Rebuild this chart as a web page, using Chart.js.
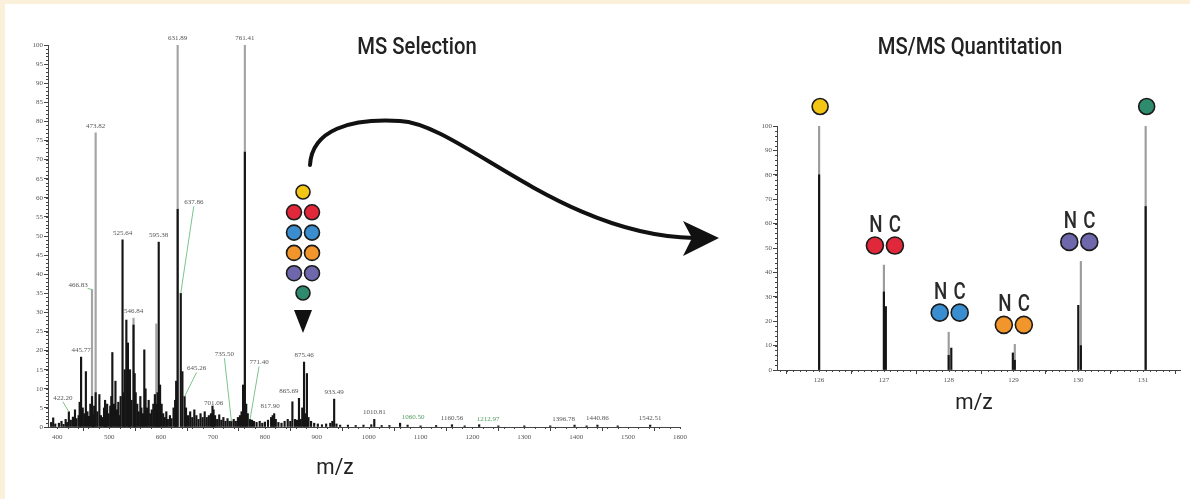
<!DOCTYPE html>
<html>
<head>
<meta charset="utf-8">
<script src="https://cdn.jsdelivr.net/npm/chart.js@4.4.0/dist/chart.umd.min.js"></script>
<style>
  html, body { margin: 0; padding: 0; }
  body { width: 1190px; height: 499px; background: #fbf1da; position: relative; overflow: hidden; }
  #panel { position: absolute; left: 5px; top: 4px; right: 0; bottom: 0; background: #fff; }
  canvas { position: absolute; top: 0; }
  #msChart { left: 0; }
  #msmsChart { left: 740px; }
</style>
</head>
<body>
<div id="panel"></div>
<canvas id="msChart" width="740" height="499"></canvas>
<canvas id="msmsChart" width="450" height="499"></canvas>
<script>
// ---- MS1 survey scan ----
const msMz = [
  388, 392, 396, 403, 408, 412, 416, 419, 422.20, 426,
  430, 434, 437, 441, 443, 445.77, 449, 452, 455, 458,
  461, 463.6, 466.83, 469, 471, 473.82, 477, 481, 484, 487,
  490, 492, 494, 496, 499, 502, 504, 506, 509, 512,
  515, 517.5, 520, 522, 525.64, 528, 530, 533, 536, 538,
  540, 543, 546.84, 549, 551, 554, 557, 560, 562, 565,
  567.6, 570, 573, 576, 579, 582, 585, 588, 590.7, 593,
  595.38, 598, 601, 604, 607, 610, 613, 617, 620, 624,
  627, 629, 631.89, 637.86, 641, 645.26, 648, 652, 656, 660,
  664, 668, 672, 676, 680, 684, 688, 692, 696, 699,
  701.06, 704, 708, 712, 716, 720, 724, 728, 732, 735.50,
  740, 744, 748, 752, 755, 758, 761.41, 764, 767, 771.40,
  775, 779, 784, 790, 795, 800, 806, 812, 815, 817.90,
  821, 826, 832, 838, 844, 849, 853, 858, 862, 865.69,
  869, 872, 875.46, 878, 881, 884, 889, 895, 902, 910,
  918, 926, 930, 933.49, 938, 945, 960, 975, 990, 1005,
  1010.81, 1025, 1040, 1060.50, 1075, 1100, 1130, 1160.56, 1185, 1212.97,
  1250, 1300, 1350, 1396.78, 1420, 1440.86, 1480, 1542.51
];
const msIntensity = [
  1.2, 2.4, 0.8, 1.0, 1.5, 0.7, 2.0, 1.2, 4.0, 1.8,
  2.6, 4.5, 2.2, 3.0, 6.5, 18.3, 5.0, 3.5, 14.5, 4.0,
  2.8, 6.0, 8.0, 3.2, 5.5, 9.0, 4.0, 8.5, 3.0, 2.5,
  5.0, 7.0, 4.2, 6.0, 3.5, 5.5, 8.0, 19.5, 6.0, 12.0,
  4.5, 6.5, 3.0, 8.0, 49.0, 9.0, 15.0, 28.0, 22.0, 10.0,
  15.0, 7.0, 26.7, 14.0, 9.0, 6.0, 4.0, 8.0, 5.0, 3.5,
  20.2, 10.0, 5.0, 7.0, 3.5, 4.5, 6.0, 8.5, 6.0, 9.0,
  48.4, 11.0, 6.0, 3.5, 2.5, 4.0, 2.0, 3.0, 2.2, 5.0,
  7.0, 12.0, 57.0, 35.0, 14.5, 8.0, 5.0, 3.0, 4.0, 2.5,
  4.5, 3.0, 2.0, 3.5, 2.5, 4.0, 2.5, 3.0, 3.5, 5.5,
  4.5, 3.0, 2.0, 3.2, 1.8, 2.5, 1.5, 2.2, 1.5, 1.5,
  2.0, 1.5, 2.5, 3.0, 4.0, 11.0, 72.0, 6.0, 3.5, 2.0,
  1.8, 1.5, 1.2, 1.5, 1.0, 1.3, 1.8, 2.5, 3.0, 3.5,
  2.0, 1.2, 1.0, 1.5, 2.0, 1.5, 6.6, 2.0, 1.8, 7.5,
  2.0, 5.0, 17.0, 3.5, 14.0, 2.5, 1.5, 1.0, 0.8, 0.6,
  0.8, 1.0, 1.5, 7.3, 0.8, 0.5, 0.5, 0.4, 0.5, 0.6,
  2.0, 0.4, 0.4, 1.0, 0.5, 0.3, 0.4, 0.6, 0.3, 0.6,
  0.3, 0.3, 0.3, 0.5, 0.3, 0.5, 0.3, 0.5
];
// profile maxima of the strongest ions (grey)
const msProfileMz = [466.83, 473.82, 546.84, 590.7, 631.89, 761.41];
const msProfileIntensity = [36, 77, 28.5, 27, 100, 100];
// annotated peaks
const msLabels = [
  422.20, 445.77, 466.83, 473.82, 525.64, 546.84, 595.38, 631.89, 637.86, 645.26,
  701.06, 735.50, 761.41, 771.40, 817.90, 865.69, 875.46, 933.49, 1010.81, 1060.50,
  1160.56, 1212.97, 1396.78, 1440.86, 1542.51
];
const msTicksX = [400, 500, 600, 700, 800, 900, 1000, 1100, 1200, 1300, 1400, 1500, 1600];
const msTicksY = [0, 5, 10, 15, 20, 25, 30, 35, 40, 45, 50, 55, 60, 65, 70, 75, 80, 85, 90, 95, 100];

// ---- MS/MS reporter region ----
const reporterNames = ['126', '127N', '127C', '128N', '128C', '129N', '129C', '130N', '130C', '131'];
const reporterMz = [126.00, 127.00, 127.03, 128.00, 128.04, 128.99, 129.02, 130.00, 130.04, 131.04];
const reporterProfile = [100, 43, 0, 15.5, 0, 0, 10.5, 0, 44.5, 100];
const reporterCentroid = [80, 32, 26, 6, 9, 7, 4, 26.5, 10, 67];
const reporterTicksX = [126, 127, 128, 129, 130, 131];
const reporterTicksY = [0, 10, 20, 30, 40, 50, 60, 70, 80, 90, 100];

// label placement tweaks (pixels from the peak top)
const labelNudge = {
  '422.20': { dx: -6, dy: -14, lead: true },
  '466.83': { dx: -14, dy: -4, lead: true },
  '637.86': { dx: 13, dy: -91, lead: true },
  '645.26': { dx: 12, dy: -28, lead: true },
  '735.50': { dx: -7, dy: -67, lead: true },
  '771.40': { dx: 9, dy: -57, lead: true },
  '817.90': { dx: -4, dy: -7 },
  '865.69': { dx: -10, dy: -7 },
  '1060.50': { dx: 13, dy: -6, green: true },
  '1212.97': { dx: 9, dy: -6, green: true },
  '1396.78': { dx: -11, dy: -6 }
};

// tag colours: 126, 127, 128, 129, 130, 131
const tagColors = ['#f3c515', '#e1283a', '#3a8dce', '#f2952a', '#6e67ab', '#2f8b6e'];
const tickFont = { family: 'Liberation Serif', size: 7 };

function narrowText(ctx, text, x, y, font, sx, color) {
  ctx.save();
  ctx.font = font;
  ctx.fillStyle = color;
  ctx.textAlign = 'center';
  ctx.textBaseline = 'middle';
  ctx.translate(x, y);
  ctx.scale(sx, 1);
  ctx.fillText(text, 0, 0);
  ctx.restore();
}

function dot(ctx, x, y, r, fill) {
  ctx.beginPath();
  ctx.arc(x, y, r, 0, Math.PI * 2);
  ctx.fillStyle = fill;
  ctx.fill();
  ctx.lineWidth = 1.6;
  ctx.strokeStyle = '#1b1b1b';
  ctx.stroke();
}

// short minor ticks along both axes
const minorTicks = {
  id: 'minorTicks',
  afterDraw(chart, args, opts) {
    const { ctx, chartArea: a, scales: { x, y } } = chart;
    ctx.save();
    ctx.strokeStyle = '#444';
    ctx.lineWidth = 1;
    ctx.beginPath();
    for (let v = Math.ceil(x.min / opts.x) * opts.x; v <= x.max + 1e-9; v += opts.x) {
      const px = Math.round(x.getPixelForValue(v)) + 0.5;
      ctx.moveTo(px, a.bottom);
      ctx.lineTo(px, a.bottom + opts.len);
    }
    for (let v = 0; v <= y.max + 1e-9; v += opts.y) {
      const py = Math.round(y.getPixelForValue(v)) + 0.5;
      ctx.moveTo(a.left - opts.len, py);
      ctx.lineTo(a.left, py);
    }
    ctx.stroke();
    ctx.restore();
  }
};

// m/z annotations above the MS1 peaks
const peakLabels = {
  id: 'peakLabels',
  afterDatasetsDraw(chart) {
    const { ctx, scales: { x, y } } = chart;
    ctx.save();
    ctx.font = '7px "Liberation Serif"';
    ctx.textAlign = 'center';
    ctx.textBaseline = 'middle';
    msLabels.forEach(mz => {
      let top = 0;
      msMz.forEach((m, i) => { if (m === mz) top = Math.max(top, msIntensity[i]); });
      msProfileMz.forEach((m, i) => { if (m === mz) top = Math.max(top, msProfileIntensity[i]); });
      const text = mz.toFixed(2);
      const n = labelNudge[text] || { dx: 0, dy: -7 };
      const px = x.getPixelForValue(mz);
      const py = y.getPixelForValue(top);
      const lx = px + n.dx;
      const ly = py + n.dy;
      if (n.lead) {
        // green leader from the label to its peak
        const w = ctx.measureText(text).width;
        ctx.beginPath();
        if (Math.abs(n.dy) > 10) {
          ctx.moveTo(lx, ly + 4);
        } else {
          ctx.moveTo(n.dx < 0 ? lx + w / 2 : lx - w / 2, ly + 3);
        }
        ctx.lineTo(px, py);
        ctx.strokeStyle = '#7cc48a';
        ctx.lineWidth = 1;
        ctx.stroke();
      }
      ctx.fillStyle = n.green ? '#4f9a5c' : '#555';
      ctx.fillText(text, lx, ly);
    });
    ctx.restore();
  }
};

// titles, precursor tag bundle and the transfer arrow
const selectionArt = {
  id: 'selectionArt',
  afterDraw(chart) {
    const ctx = chart.ctx;
    ctx.save();
    narrowText(ctx, 'MS Selection', 417, 48, '500 23px Roboto', 0.88, '#222');
    narrowText(ctx, 'm/z', 335, 468, '22px Roboto', 0.95, '#222');

    // isolated precursor carrying all six tags
    const cx = 303;
    dot(ctx, cx, 192, 7, tagColors[0]);
    for (let k = 1; k <= 4; k++) {
      const cy = 192 + k * 20.3;
      dot(ctx, cx - 9, cy, 7.5, tagColors[k]);
      dot(ctx, cx + 9, cy, 7.5, tagColors[k]);
    }
    dot(ctx, cx, 293, 7, tagColors[5]);
    ctx.beginPath();
    ctx.moveTo(cx - 9, 310);
    ctx.lineTo(cx + 9, 310);
    ctx.lineTo(cx, 333);
    ctx.closePath();
    ctx.fillStyle = '#111';
    ctx.fill();

    // fragmentation arrow
    ctx.beginPath();
    ctx.moveTo(310, 165);
    ctx.bezierCurveTo(312, 130, 350, 118, 400, 121);
    ctx.bezierCurveTo(460, 124, 560, 235, 694, 238);
    ctx.lineWidth = 4;
    ctx.lineCap = 'round';
    ctx.strokeStyle = '#111';
    ctx.stroke();
    ctx.beginPath();
    ctx.moveTo(719, 238);
    ctx.lineTo(683, 221);
    ctx.lineTo(692, 238);
    ctx.lineTo(683, 256);
    ctx.closePath();
    ctx.fill();
    ctx.restore();
  }
};

// reporter tag markers above each channel
const reporterTags = {
  id: 'reporterTags',
  afterDraw(chart) {
    const { ctx, scales: { x, y } } = chart;
    ctx.save();
    narrowText(ctx, 'MS/MS Quantitation', 230, 48, '500 23px Roboto', 0.88, '#222');
    narrowText(ctx, 'm/z', 234, 403, '22px Roboto', 0.95, '#222');
    const groups = [];
    reporterNames.forEach((name, i) => {
      const key = name.slice(0, 3);
      let g = groups.find(e => e.key === key);
      if (!g) { g = { key, idx: [] }; groups.push(g); }
      g.idx.push(i);
    });
    groups.forEach((g, gi) => {
      const top = Math.max(...g.idx.map(i => Math.max(reporterProfile[i], reporterCentroid[i])));
      const cx = x.getPixelForValue(reporterMz[g.idx[0]]) + 1;
      const cy = y.getPixelForValue(top + 8);
      if (g.idx.length === 1) {
        dot(ctx, cx, cy, 8, tagColors[gi]);
      } else {
        dot(ctx, cx - 10, cy, 8.5, tagColors[gi]);
        dot(ctx, cx + 10, cy, 8.5, tagColors[gi]);
        narrowText(ctx, reporterNames[g.idx[0]].slice(3), cx - 9, cy - 20, '500 24px Roboto', 0.78, '#2a2a2a');
        narrowText(ctx, reporterNames[g.idx[1]].slice(3), cx + 10, cy - 20, '500 24px Roboto', 0.78, '#2a2a2a');
      }
    });
    ctx.restore();
  }
};

function axisX(min, max, ticks) {
  return {
    type: 'linear', min, max, offset: false,
    afterBuildTicks: s => { s.ticks = ticks.map(v => ({ value: v })); },
    afterFit: s => { s.height = 30; },
    grid: { drawOnChartArea: false, tickLength: 4, color: '#444' },
    border: { color: '#444', width: 1 },
    ticks: { font: tickFont, color: '#555', padding: 2, maxRotation: 0, autoSkip: false, callback: v => String(v) }
  };
}

function axisY(ticks, width) {
  return {
    min: 0, max: 100,
    afterBuildTicks: s => { s.ticks = ticks.map(v => ({ value: v })); },
    afterFit: s => { s.width = width; },
    grid: { drawOnChartArea: false, tickLength: 4, color: '#444' },
    border: { color: '#444', width: 1 },
    ticks: { font: tickFont, color: '#555', padding: 1, autoSkip: false, callback: v => String(v) }
  };
}

new Chart(document.getElementById('msChart'), {
  type: 'bar',
  data: {
    datasets: [
      {
        label: 'centroid',
        data: msMz.map((m, i) => ({ x: m, y: msIntensity[i] })),
        backgroundColor: '#151515',
        barThickness: 1.5,
        grouped: false
      },
      {
        label: 'profile',
        data: msProfileMz.map((m, i) => ({ x: m, y: msProfileIntensity[i] })),
        backgroundColor: '#a4a4a4',
        barThickness: 1.5,
        grouped: false
      }
    ]
  },
  options: {
    responsive: false,
    animation: false,
    layout: { padding: { left: 0, right: 60, top: 45, bottom: 42 } },
    plugins: {
      legend: { display: false },
      tooltip: { enabled: false },
      minorTicks: { x: 20, y: 1, len: 2 }
    },
    scales: { x: axisX(382, 1600, msTicksX), y: axisY(msTicksY, 48) }
  },
  plugins: [minorTicks, peakLabels, selectionArt]
});

new Chart(document.getElementById('msmsChart'), {
  type: 'bar',
  data: {
    datasets: [
      {
        label: 'centroid',
        data: reporterMz.map((m, i) => ({ x: m, y: reporterCentroid[i] })),
        backgroundColor: '#151515',
        barThickness: 1.5,
        grouped: false
      },
      {
        label: 'profile',
        data: reporterMz.map((m, i) => ({ x: m, y: reporterProfile[i] })),
        backgroundColor: '#9c9c9c',
        barThickness: 1.5,
        grouped: false
      }
    ]
  },
  options: {
    responsive: false,
    animation: false,
    layout: { padding: { left: 0, right: 10, top: 126, bottom: 99 } },
    plugins: {
      legend: { display: false },
      tooltip: { enabled: false },
      minorTicks: { x: 0.1, y: 2, len: 2 }
    },
    scales: { x: axisX(125.35, 131.57, reporterTicksX), y: axisY(reporterTicksY, 37) }
  },
  plugins: [minorTicks, reporterTags]
});
</script>
</body>
</html>
